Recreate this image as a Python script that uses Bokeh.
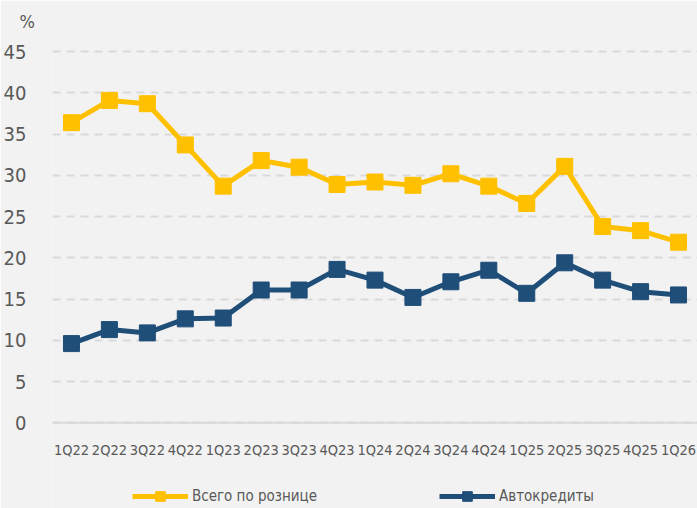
from bokeh.plotting import figure
from bokeh.models import (FactorRange, Range1d, FixedTicker, Legend, LegendItem,
                          Span, ColumnDataSource)
from bokeh.core.properties import value
from bokeh.embed import file_html
from bokeh.resources import INLINE

quarters = ["1Q22", "2Q22", "3Q22", "4Q22", "1Q23", "2Q23", "3Q23", "4Q23",
            "1Q24", "2Q24", "3Q24", "4Q24", "1Q25", "2Q25", "3Q25", "4Q25", "1Q26"]
retail_total = [36.4, 39.1, 38.7, 33.7, 28.7, 31.8, 31.0, 28.9,
                29.2, 28.8, 30.2, 28.7, 26.6, 31.1, 23.8, 23.3, 21.9]
auto_loans = [9.6, 11.3, 10.9, 12.6, 12.7, 16.1, 16.1, 18.6,
              17.3, 15.2, 17.1, 18.5, 15.7, 19.4, 17.3, 15.9, 15.5]
y_ticks = [0, 5, 10, 15, 20, 25, 30, 35, 40, 45]
series_names = ["Всего по рознице", "Автокредиты"]
unit_label = "%"

FONT = "DejaVu Sans Condensed"
BG = "#F2F2F2"
TXT = "#595959"
GRID = "#D9D9D9"
YELLOW = "#FFC000"
BLUE = "#1F4E79"

# frame spans down to the bottom edge so the category labels and the legend
# can sit inside it (values below 0 are only room for them)
p = figure(width=697, height=508, x_range=FactorRange(*quarters),
           y_range=Range1d(-10.4, 46), output_backend="svg", toolbar_location=None,
           min_border_left=49, min_border_right=0, min_border_top=42,
           min_border_bottom=0)
p.background_fill_color = BG
p.border_fill_color = BG
p.outline_line_color = None

p.title.text = unit_label
p.title.align = "left"
p.title.offset = -33
p.title.vertical_align = "top"
p.title.text_font = FONT
p.title.text_font_size = "18px"
p.title.text_font_style = "normal"
p.title.text_color = TXT
p.title.standoff = 20

p.ygrid.ticker = FixedTicker(ticks=y_ticks)
p.ygrid.grid_line_color = GRID
p.ygrid.grid_line_width = 2
p.ygrid.grid_line_dash = "8 6"
p.xgrid.grid_line_color = None
p.add_layout(Span(location=0, dimension="width", line_color=GRID, line_width=2))

r_y_line = p.line(quarters, retail_total, color=YELLOW, line_width=5)
r_y_pts = p.scatter(quarters, retail_total, marker="square", size=16,
                    fill_color=YELLOW, line_color=YELLOW)
r_b_line = p.line(quarters, auto_loans, color=BLUE, line_width=5)
r_b_pts = p.scatter(quarters, auto_loans, marker="square", size=16,
                    fill_color=BLUE, line_color=BLUE)

p.yaxis.ticker = FixedTicker(ticks=y_ticks)
p.yaxis.axis_line_color = None
p.yaxis.major_tick_line_color = None
p.yaxis.minor_tick_line_color = None
p.yaxis.major_label_standoff = 20
p.yaxis.major_label_text_font = FONT
p.yaxis.major_label_text_font_size = "20px"
p.yaxis.major_label_text_color = TXT

p.xaxis.visible = False

# category labels under the zero line
lab_src = ColumnDataSource(dict(x=quarters, y=[-3.3] * len(quarters), t=quarters))
p.text(x="x", y="y", text="t", source=lab_src, text_align="center",
       text_baseline="middle", text_font=value(FONT), text_font_size="14.5px",
       text_color=TXT)

legend = Legend(items=[LegendItem(label=series_names[0], renderers=[r_y_line, r_y_pts]),
                       LegendItem(label=series_names[1], renderers=[r_b_line, r_b_pts])],
                location=(80, 0), orientation="horizontal",
                glyph_width=56, glyph_height=24, label_standoff=4, spacing=122,
                label_width=120,
                padding=0, margin=0, border_line_color=None,
                background_fill_alpha=0, label_text_font=FONT,
                label_text_font_size="15px", label_text_color=TXT)
p.add_layout(legend, "center")

open("out.html", "w").write(file_html(p, INLINE))
